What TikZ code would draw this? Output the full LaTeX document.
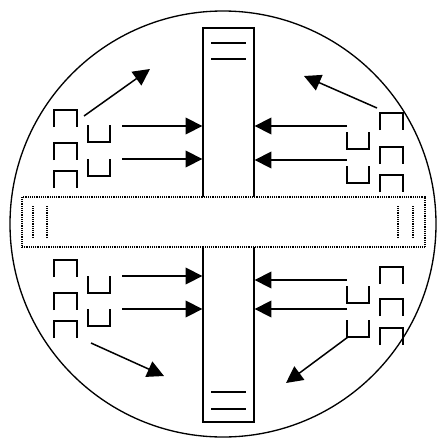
\documentclass[tikz,border=0pt]{standalone}
\usepackage{tikz}
\usetikzlibrary{positioning, arrows.meta, calc}

% bracket shapes, #1 = top left corner
\newcommand{\capbox}[1]{\draw[brk] (#1) ++(0,17) |- ++(23,-17) -- ++(0,17);}
\newcommand{\cupbox}[1]{\draw[brk] (#1) -- ++(0,17) -| ++(22,-17);}

\begin{document}
\begin{tikzpicture}[x=0.3mm, y=-0.3mm, >={Triangle[length=5mm, width=5mm]},
    brk/.style={line width=0.55mm},
    arr/.style={->, line width=0.45mm},
    bar/.style={draw, line width=0.4mm, inner sep=0pt, minimum width=15.3mm, minimum height=118.2mm},
    band/.style={draw, fill=white, line width=0.35mm, dash pattern=on 0.3mm off 0.25mm, inner sep=0pt, minimum width=120.9mm, minimum height=15mm},
    dotline/.style={line width=0.35mm, dash pattern=on 0.3mm off 0.25mm}]
  \useasboundingbox (0,0) rectangle (446,438);

  \node[draw, circle, line width=0.4mm, minimum size=127.8mm, inner sep=0pt] (disc) at (223,224) {};
  \node[bar] (shaft) at (228.5,225) {};
  \draw[line width=0.4mm] (211,43) -- (246,43) (211,59) -- (246,59);
  \draw[line width=0.4mm] (211,392) -- (246,392) (211,409) -- (246,409);
  \node[band] (strip) at (223.5,222) {};
  \draw[dotline] (33,206) -- (33,238) (47,206) -- (47,238);
  \draw[dotline] (398,206) -- (398,238) (413,206) -- (413,238);

  % upper left
  \capbox{54,110} \capbox{54,143} \capbox{54,171}
  \cupbox{88,125} \cupbox{88,159}
  \coordinate (ul1) at (122,126);
  \coordinate (ul2) at (122,159);
  \coordinate (ulo) at (84,116);
  \coordinate (ult) at (150,69);
  \draw[arr] (ul1) -- (ul1 -| shaft.west);
  \draw[arr] (ul2) -- (ul2 -| shaft.west);
  \draw[arr] (ulo) -- (ult);

  % upper right
  \capbox{380,113} \capbox{380,147} \capbox{380,175}
  \cupbox{347,132} \cupbox{347,166}
  \coordinate (ur1) at (347,126);
  \coordinate (ur2) at (347,160);
  \coordinate (uro) at (377,108);
  \coordinate (urt) at (304,76);
  \draw[arr] (ur1) -- (ur1 -| shaft.east);
  \draw[arr] (ur2) -- (ur2 -| shaft.east);
  \draw[arr] (uro) -- (urt);

  % lower left
  \capbox{54,260} \capbox{54,293} \capbox{54,321}
  \cupbox{88,276} \cupbox{88,309}
  \coordinate (ll1) at (122,276);
  \coordinate (ll2) at (122,309);
  \coordinate (llo) at (91,343);
  \coordinate (llt) at (164,376);
  \draw[arr] (ll1) -- (ll1 -| shaft.west);
  \draw[arr] (ll2) -- (ll2 -| shaft.west);
  \draw[arr] (llo) -- (llt);

  % lower right
  \capbox{380,267} \capbox{380,299} \capbox{380,328}
  \cupbox{347,286} \cupbox{347,320}
  \coordinate (lr1) at (347,280);
  \coordinate (lr2) at (347,309);
  \coordinate (lro) at (348,337);
  \coordinate (lrt) at (286,383);
  \draw[arr] (lr1) -- (lr1 -| shaft.east);
  \draw[arr] (lr2) -- (lr2 -| shaft.east);
  \draw[arr] (lro) -- (lrt);
\end{tikzpicture}
\end{document}
